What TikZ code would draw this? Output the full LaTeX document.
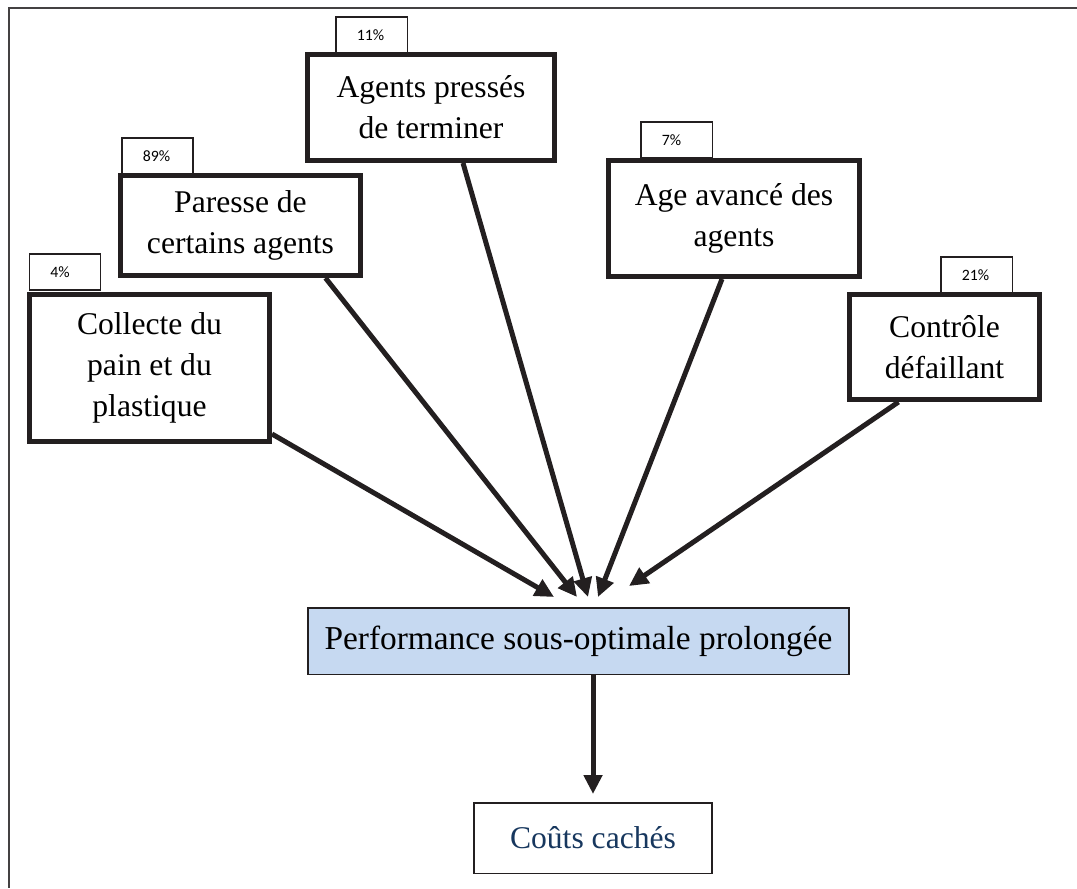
\documentclass[tikz,border=0pt]{standalone}
\usepackage{fontspec}
\setmainfont{Liberation Serif}
\newfontfamily\tagfont{Carlito}
\usetikzlibrary{calc,arrows.meta}
\definecolor{boxblue}{HTML}{C6D9F1}
\definecolor{navy}{HTML}{17375E}
\definecolor{ink}{HTML}{231F20}

\begin{document}
\begin{tikzpicture}[x=0.02cm,y=-0.02cm,
    cause/.style={draw=ink,line width=0.1cm,inner sep=0pt,align=center,font=\fontsize{18}{23.5}\selectfont},
    pct/.style={draw=ink,line width=0.03cm,minimum width=1.43cm,minimum height=0.73cm,inner xsep=0.42cm,inner ysep=0pt,text width=0.59cm,align=left,font=\tagfont\fontsize{9}{10}\selectfont},
    effect/.style={draw=ink,line width=0.03cm,inner sep=0pt,font=\fontsize{18}{23.5}\selectfont},
    arr/.style={draw=ink,line width=0.1cm,-{Triangle[length=0.38cm,width=0.36cm]}}]
  \useasboundingbox (0,0) rectangle (1077,888);
  % cadre
  \draw[line width=0.03cm,ink!85] (1077,8) -- (9,8) -- (9,888);
  % pourcentages
  \node[pct] (p11) at (371.5,35.5) {11\%};
  \node[pct] (p89) at (157.5,156) {89\%};
  \node[pct] (p4) at (65,272) {4\%};
  \node[pct] (p7) at (676.5,140) {7\%};
  \node[pct] (p21) at (976.5,275) {21\%};
  % causes
  \node[cause,minimum width=4.94cm,minimum height=2.12cm] (agents) at (431,107.5) {Agents pressés\\de terminer};
  \node[cause,minimum width=4.8cm,minimum height=2cm] (paresse) at (240.5,225.5) {Paresse de\\certains agents};
  \node[cause,minimum width=4.8cm,minimum height=2.94cm] (collecte) at (149.5,368) {Collecte du\\pain et du\\plastique};
  \node[cause,minimum width=5.02cm,minimum height=2.32cm] (age) at (734,218.5) {Age avancé des\\agents};
  \node[cause,minimum width=3.8cm,minimum height=2.1cm] (controle) at (944.5,347) {Contrôle\\défaillant};
  % effets
  \node[effect,fill=boxblue,minimum width=10.83cm,minimum height=1.33cm,font=\fontsize{19}{23.5}\selectfont] (perf) at (578.5,641) {Performance sous-optimale prolongée};
  \node[effect,text=navy,minimum width=4.77cm,minimum height=1.41cm] (couts) at (593,838) {Coûts cachés};
  % pointes
  \coordinate (t1) at (554,597);
  \coordinate (t2) at (577,597);
  \coordinate (t3) at (588,597);
  \coordinate (t4) at (598,597);
  \coordinate (t5) at (629,586);
  \draw[arr] ($(collecte.south east)+(0,-10)$) -- (t1);
  \draw[arr] ($(paresse.south)+(85,0)$) -- (t2);
  \draw[arr] ($(agents.south)+(32,0)$) -- (t3);
  \draw[arr] ($(age.south)+(-12,0)$) -- (t4);
  \draw[arr] ($(controle.south)+(-46,0)$) -- (t5);
  \draw[arr,shorten >=0.16cm] (perf.south -| couts.north) -- (couts.north);
\end{tikzpicture}
\end{document}
